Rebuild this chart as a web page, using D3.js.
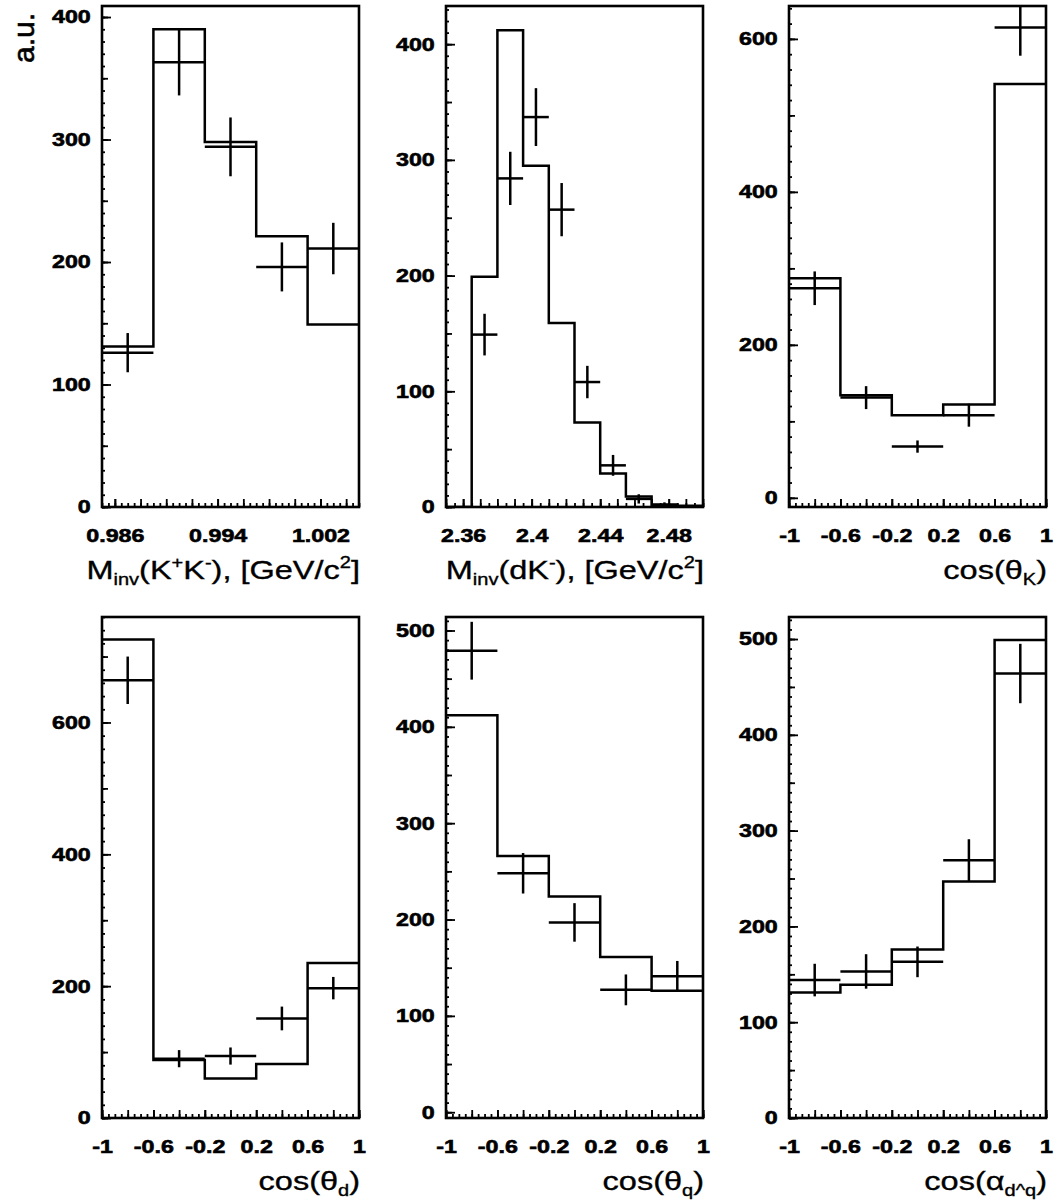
<!DOCTYPE html>
<html><head><meta charset="utf-8">
<script src="https://cdn.jsdelivr.net/npm/d3@7"></script>
<style>body{margin:0;background:#fff}</style></head>
<body>
<svg id="c" width="1054" height="1202"></svg>
<script>
// ---------- data ----------
const edgesKK = [0.985, 0.989, 0.993, 0.997, 1.001, 1.005];
const simKK   = [131, 390, 298, 221, 149];
const dataKK  = [126, 363, 294, 196, 211];
const errKK   = [16, 27, 24, 20, 21];
const xLabelsKK = [0.986, 0.994, 1.002];

const edgesDK = [2.35, 2.365, 2.38, 2.395, 2.41, 2.425, 2.44, 2.455, 2.47, 2.485, 2.50];
const simDK   = [0, 199, 412, 295, 159, 73, 29, 9, 2, 1];
const dataDK  = [null, 149, 284, 337, 257, 108, 36, 7, 2, null];
const errDK   = [0, 18, 23, 25, 23, 14, 9, 4, 2, 0];
const xLabelsDK = [2.36, 2.4, 2.44, 2.48];

const edgesCos = [-1, -0.6, -0.2, 0.2, 0.6, 1];
const xLabelsCos = [-1, -0.6, -0.2, 0.2, 0.6, 1];

const simCosK  = [287, 134, 108, 122, 541];
const dataCosK = [274, 131, 67, 108, 615];
const errCosK  = [22, 15, 8, 15, 37];

const simCosD  = [726, 88, 60, 82, 235];
const dataCosD = [664, 90, 94, 151, 197];
const errCosD  = [36, 13, 13, 18, 17];

const simCosQ  = [412, 266, 224, 161, 126];
const dataCosQ = [479, 248, 197, 127, 141];
const errCosQ  = [30, 21, 20, 16, 16];

const simCosA  = [131, 139, 176, 247, 499];
const dataCosA = [144, 153, 163, 269, 464];
const errCosA  = [17, 18, 16, 22, 31];

const yLabels400 = [0, 100, 200, 300, 400];
const yLabels600 = [0, 200, 400, 600];
const yLabels500 = [0, 100, 200, 300, 400, 500];

// ---------- layout ----------
const PW = 257, PH = 501;
const colX = [102, 446, 789];
const rowY = [6, 617];
const SX = 1.25;       // horizontal stretch of the original raster
const FONT = "'Liberation Sans', Arial, Helvetica, sans-serif";
const LW = 2.5;

const svg = d3.select('#c');

const panels = [
  {c:0, r:0, edges:edgesKK, sim:simKK, data:dataKK, err:errKK, xDomain:[0.985,1.005], yDomain:[0,409],
   xLabels:xLabelsKK, xFmt:d3.format('.3f'), xMid:0.002, xMinor:0.0005, yLabels:yLabels400, yMid:50, yMinor:10,
   title:[['M',''],['inv','sub'],['(K',''],['+','sup'],['K',''],['-','sup'],['), [GeV/c',''],['2','sup'],[']','']]},
  {c:1, r:0, edges:edgesDK, sim:simDK, data:dataDK, err:errDK, xDomain:[2.35,2.50], yDomain:[0,433],
   xLabels:xLabelsDK, xFmt:d=>String(d), xMid:0.01, xMinor:0.005, yLabels:yLabels400, yMid:50, yMinor:10,
   title:[['M',''],['inv','sub'],['(dK',''],['-','sup'],['), [GeV/c',''],['2','sup'],[']','']]},
  {c:2, r:0, edges:edgesCos, sim:simCosK, data:dataCosK, err:errCosK, xDomain:[-1,1], yDomain:[-12,643],
   xLabels:xLabelsCos, xFmt:d=>String(d), xMid:0.2, xMinor:0.05, yLabels:yLabels600, yMid:100, yMinor:20,
   title:[['cos(θ',''],['K','sub'],[')','']]},
  {c:0, r:1, edges:edgesCos, sim:simCosD, data:dataCosD, err:errCosD, xDomain:[-1,1], yDomain:[0,760],
   xLabels:xLabelsCos, xFmt:d=>String(d), xMid:0.2, xMinor:0.05, yLabels:yLabels600, yMid:100, yMinor:20,
   title:[['cos(θ',''],['d','sub'],[')','']]},
  {c:1, r:1, edges:edgesCos, sim:simCosQ, data:dataCosQ, err:errCosQ, xDomain:[-1,1], yDomain:[-6,514],
   xLabels:xLabelsCos, xFmt:d=>String(d), xMid:0.2, xMinor:0.05, yLabels:yLabels500, yMid:50, yMinor:10,
   title:[['cos(θ',''],['q','sub'],[')','']]},
  {c:2, r:1, edges:edgesCos, sim:simCosA, data:dataCosA, err:errCosA, xDomain:[-1,1], yDomain:[0,523],
   xLabels:xLabelsCos, xFmt:d=>String(d), xMid:0.2, xMinor:0.05, yLabels:yLabels500, yMid:50, yMinor:10,
   title:[['cos(α',''],['d^q','sub'],[')','']]}
];

function stepTicks(domain, step) {
  const lo = Math.ceil(domain[0]/step - 1e-6), hi = Math.floor(domain[1]/step + 1e-6);
  return d3.range(lo, hi+1).map(k => +(k*step).toFixed(6));
}

function drawTitle(parent, parts, xr, yb) {
  const t = parent.append('text')
    .attr('transform', `translate(${xr},${yb}) scale(${SX},1)`)
    .attr('text-anchor', 'end')
    .attr('font-family', FONT).attr('font-size', 26).attr('fill', '#000')
    .attr('stroke', '#000').attr('stroke-width', 0.35);
  let shift = 0;
  parts.forEach(([s, kind]) => {
    const target = kind === 'sub' ? 6 : kind === 'sup' ? -11 : 0;
    t.append('tspan').text(s).attr('dy', target - shift)
      .attr('font-size', kind ? 16 : 26);
    shift = target;
  });
}

function styleLabels(sel) {
  sel.selectAll('text').attr('transform', `scale(${SX},1)`)
    .attr('font-family', FONT).attr('font-weight', 'bold').attr('font-size', 18.6)
    .attr('fill', '#000').attr('stroke', '#000').attr('stroke-width', 0.6);
}

panels.forEach((p, idx) => {
  const g = svg.append('g').attr('transform', `translate(${colX[p.c]},${rowY[p.r]})`);
  const x = d3.scaleLinear().domain(p.xDomain).range([0, PW]);
  const y = d3.scaleLinear().domain(p.yDomain).range([PH, 0]);

  const cid = 'clip' + idx;
  g.append('clipPath').attr('id', cid).append('rect').attr('width', PW).attr('height', PH);
  const plot = g.append('g').attr('clip-path', `url(#${cid})`);

  // simulated histogram (step outline)
  const pts = p.sim.map((v, i) => [p.edges[i], v]);
  pts.push([p.edges[p.edges.length-1], p.sim[p.sim.length-1]]);
  const line = d3.line().x(d => x(d[0])).y(d => y(Math.max(d[1], 0))).curve(d3.curveStepAfter);
  plot.append('path').attr('d', line(pts)).attr('fill', 'none').attr('stroke', '#000').attr('stroke-width', LW);

  // experimental points with error bars
  const pd = p.data.map((v, i) => ({v, e:p.err[i], a:p.edges[i], b:p.edges[i+1]})).filter(d => d.v !== null);
  plot.selectAll('line.h').data(pd).enter().append('line')
    .attr('x1', d => x(d.a)).attr('x2', d => x(d.b))
    .attr('y1', d => y(d.v)).attr('y2', d => y(d.v))
    .attr('stroke', '#000').attr('stroke-width', LW);
  plot.selectAll('line.v').data(pd).enter().append('line')
    .attr('x1', d => x((d.a+d.b)/2)).attr('x2', d => x((d.a+d.b)/2))
    .attr('y1', d => y(d.v - d.e)).attr('y2', d => y(d.v + d.e))
    .attr('stroke', '#000').attr('stroke-width', LW);

  // x axis ticks (inside)
  const ax = g.append('g').attr('transform', `translate(0,${PH})`);
  ax.append('g').call(d3.axisBottom(x).tickValues(stepTicks(p.xDomain, p.xMinor)).tickSize(-4).tickFormat(''));
  ax.append('g').call(d3.axisBottom(x).tickValues(stepTicks(p.xDomain, p.xMid)).tickSize(-8).tickFormat(''));
  const axl = ax.append('g').call(d3.axisBottom(x).tickValues(p.xLabels).tickSize(-8).tickPadding(22).tickFormat(p.xFmt));
  styleLabels(axl);

  // y axis ticks (inside)
  const ay = g.append('g');
  ay.append('g').call(d3.axisLeft(y).tickValues(stepTicks(p.yDomain, p.yMinor)).tickSize(-3).tickFormat(''));
  ay.append('g').call(d3.axisLeft(y).tickValues(stepTicks(p.yDomain, p.yMid)).tickSize(-6).tickFormat(''));
  const ayl = ay.append('g').call(d3.axisLeft(y).tickValues(p.yLabels).tickSize(-9).tickPadding(9).tickFormat(d3.format('d')));
  styleLabels(ayl);

  g.selectAll('.domain').remove();
  g.selectAll('.tick line').attr('stroke', '#000').attr('stroke-width', 1.8);

  // frame
  g.append('rect').attr('width', PW).attr('height', PH)
    .attr('fill', 'none').attr('stroke', '#000').attr('stroke-width', 2.6);

  // axis title
  drawTitle(svg, p.title, colX[p.c] + PW + 1, rowY[p.r] + PH + 72);
});

// y-axis title
svg.append('text').attr('transform', 'translate(34,38) rotate(-90)')
  .attr('text-anchor', 'middle').attr('font-family', FONT).attr('font-size', 30).attr('fill', '#000')
  .attr('stroke', '#000').attr('stroke-width', 0.6)
  .text('a.u.');
</script>
</body></html>
